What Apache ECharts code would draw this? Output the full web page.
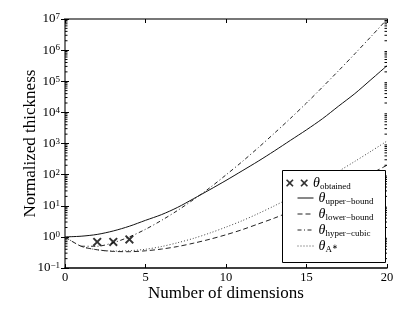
<!DOCTYPE html>
<html>
<head>
<meta charset="utf-8">
<script src="https://cdn.jsdelivr.net/npm/echarts@6/dist/echarts.min.js"></script>
<style>
html,body{margin:0;padding:0;background:#fff;}
#chart{width:415px;height:312px;}
</style>
</head>
<body>
<div id="chart"></div>
<script>
// ---- data ----
const dims = [0,1,2,3,4,5,6,7,8,9,10,11,12,13,14,15,16,17,18,19,20];
const upperBound = [1, 1.05, 1.2, 1.55, 2.2, 3.4, 5.2, 8.9, 17, 33, 65, 132, 270, 575, 1260, 2750, 6300, 16000, 40000, 112000, 316000];
const lowerBound = [1, 0.5, 0.385, 0.342, 0.334, 0.357, 0.406, 0.49, 0.63, 0.84, 1.17, 1.7, 2.6, 4.0, 6.5, 10.8, 18.4, 32, 58, 107, 200];
const hyperCubic = [null, 0.5, 0.5, 0.65, 1.0, 1.75, 3.4, 7.1, 16, 38, 98, 260, 730, 2130, 6400, 20000, 65500, 220000, 760000, 2700000, 9800000];
const aStar = [1, 0.5, 0.385, 0.35, 0.36, 0.4, 0.49, 0.65, 0.9, 1.33, 2.06, 3.3, 5.6, 9.9, 18, 33, 65, 129, 266, 560, 1200];
const obtainedDims = [2, 3, 4];
const obtained = [0.69, 0.69, 0.83];
const xTicks = [0, 5, 10, 15, 20];
const yTickExps = [-1, 0, 1, 2, 3, 4, 5, 6, 7];
const seriesNames = ['obtained', 'upper\u2212bound', 'lower\u2212bound', 'hyper\u2212cubic', 'A*'];

const SERIF = 'Liberation Serif';
const pairs = (ys) => dims.map((d, i) => [d, ys[i]]).filter(p => p[1] != null);

// minor log ticks (2..9 x 10^k) from the tick exponents
const minorVals = [];
for (let i = 0; i < yTickExps.length - 1; i++) {
  for (let j = 2; j <= 9; j++) minorVals.push(j * Math.pow(10, yTickExps[i]));
}

const X1 = 'M0,1.5 L1.5,0 L5,3.5 L8.5,0 L10,1.5 L6.5,5 L10,8.5 L8.5,10 L5,6.5 L1.5,10 L0,8.5 L3.5,5 Z';
const X2 = 'M19,1.5 L20.5,0 L24,3.5 L27.5,0 L29,1.5 L25.5,5 L29,8.5 L27.5,10 L24,6.5 L20.5,10 L19,8.5 L22.5,5 Z';
const crossIcon = 'path://' + X1;
const doubleCrossIcon = 'path://' + X1 + ' ' + X2;

const legendRich = {
  t: {fontFamily: SERIF, fontStyle: 'italic', fontSize: 14, lineHeight: 16, color: '#000'},
  s: {fontFamily: SERIF, fontSize: 9, verticalAlign: 'bottom', color: '#000'},
  ss: {fontFamily: SERIF, fontSize: 7, verticalAlign: 'bottom', padding: [0, 0, 3, 0], color: '#000'}
};
const legendFormatter = (name) => {
  if (name === 'A*') return '{t|\u03b8}{s|A}{ss|\u2217}';
  return '{t|\u03b8}{s|' + name + '}';
};

const expLabel = (v) => {
  const e = Math.round(Math.log10(v));
  return '{b|10}{e|' + (e < 0 ? '\u2212' + (-e) : e) + '}';
};

const chart = echarts.init(document.getElementById('chart'));
chart.setOption({
  animation: false,
  backgroundColor: '#fff',
  grid: {left: 65, right: 28, top: 19, bottom: 44, containLabel: false},
  xAxis: [{
    type: 'value', min: xTicks[0], max: xTicks[xTicks.length - 1], interval: 5,
    axisLine: {show: true, lineStyle: {color: '#000', width: 1.5}},
    axisTick: {show: true, inside: true, length: 4, lineStyle: {color: '#000'}},
    splitLine: {show: false},
    axisLabel: {fontFamily: SERIF, fontSize: 12.5, color: '#000', margin: 3},
    name: 'Number of dimensions', nameLocation: 'middle', nameGap: 17, nameMoveOverlap: false,
    nameTextStyle: {fontFamily: SERIF, fontSize: 17, color: '#000'}
  }, {
    type: 'value', position: 'top', min: xTicks[0], max: xTicks[xTicks.length - 1], interval: 5,
    axisLine: {show: true, lineStyle: {color: '#777', width: 2}},
    axisTick: {show: true, inside: true, length: 4, lineStyle: {color: '#000'}},
    axisLabel: {show: false}, splitLine: {show: false}
  }],
  yAxis: [{
    type: 'log', logBase: 10, min: 0.1, max: 1e7, interval: 1,
    axisLine: {show: true, lineStyle: {color: '#000', width: 1.5}},
    axisTick: {show: true, inside: true, length: 4, lineStyle: {color: '#000'}},
    splitLine: {show: false},
    axisLabel: {
      margin: 5, formatter: expLabel,
      rich: {
        b: {fontFamily: SERIF, fontSize: 13, lineHeight: 13, verticalAlign: 'bottom', color: '#000'},
        e: {fontFamily: SERIF, fontSize: 9, lineHeight: 9, verticalAlign: 'top', padding: [0, 0, 8, 0], color: '#000'}
      }
    },
    name: 'Normalized thickness', nameLocation: 'middle', nameGap: 26, nameMoveOverlap: false,
    nameTextStyle: {fontFamily: SERIF, fontSize: 17, color: '#000'}
  }, {
    type: 'log', logBase: 10, min: 0.1, max: 1e7, interval: 1, position: 'right',
    axisLine: {show: true, lineStyle: {color: '#777', width: 2}},
    axisTick: {show: true, inside: true, length: 4, lineStyle: {color: '#000'}},
    axisLabel: {show: false}, splitLine: {show: false}
  }],
  graphic: [{
    type: 'rect', left: 282, top: 170, z: 50,
    shape: {width: 103, height: 92},
    style: {fill: '#fff', stroke: '#000', lineWidth: 1}
  }],
  legend: [{
    data: [{name: seriesNames[0], icon: doubleCrossIcon}],
    orient: 'vertical', left: 286, top: 176, padding: 0,
    itemWidth: 22, itemHeight: 8, z: 60,
    formatter: legendFormatter, textStyle: {rich: legendRich}
  }, {
    data: seriesNames.slice(1),
    orient: 'vertical', left: 297, top: 191, padding: 0, itemGap: 1,
    itemWidth: 16, itemHeight: 10, z: 60,
    itemStyle: {color: 'rgba(0,0,0,0)', borderWidth: 0, borderColor: 'rgba(0,0,0,0)'},
    lineStyle: {width: 1},
    formatter: legendFormatter, textStyle: {rich: legendRich}
  }],
  series: [{
    name: seriesNames[0], type: 'scatter', symbol: crossIcon, symbolSize: 9,
    itemStyle: {color: '#000'}, z: 5,
    data: obtainedDims.map((d, i) => [d, obtained[i]])
  }, {
    name: seriesNames[1], type: 'line', showSymbol: false, symbol: 'none', smooth: 0.3,
    lineStyle: {color: '#111', width: 1, type: 'solid'}, itemStyle: {color: '#111'},
    data: pairs(upperBound)
  }, {
    name: seriesNames[2], type: 'line', showSymbol: false, symbol: 'none', smooth: 0.3,
    lineStyle: {color: '#222', width: 1, type: [5, 3]}, itemStyle: {color: '#222'},
    data: pairs(lowerBound)
  }, {
    name: seriesNames[3], type: 'line', showSymbol: false, symbol: 'none', smooth: 0.3,
    lineStyle: {color: '#222', width: 1, type: [4, 2.5, 1, 2.5]}, itemStyle: {color: '#222'},
    data: pairs(hyperCubic)
  }, {
    name: seriesNames[4], type: 'line', showSymbol: false, symbol: 'none', smooth: 0.3,
    lineStyle: {color: '#444', width: 1, type: [1, 2]}, itemStyle: {color: '#444'},
    data: pairs(aStar)
  }, {
    name: 'minor ticks', type: 'custom', silent: true, z: 4,
    data: minorVals.map(v => [xTicks[0], v]),
    renderItem: (params, api) => {
      const v = api.value(1);
      const pL = api.coord([xTicks[0], v]);
      const pR = api.coord([xTicks[xTicks.length - 1], v]);
      return {type: 'group', children: [
        {type: 'line', shape: {x1: pL[0], y1: pL[1], x2: pL[0] + 2.5, y2: pL[1]}, style: {stroke: '#000', lineWidth: 1}},
        {type: 'line', shape: {x1: pR[0], y1: pR[1], x2: pR[0] - 2.5, y2: pR[1]}, style: {stroke: '#000', lineWidth: 1}}
      ]};
    }
  }]
});
</script>
</body>
</html>
